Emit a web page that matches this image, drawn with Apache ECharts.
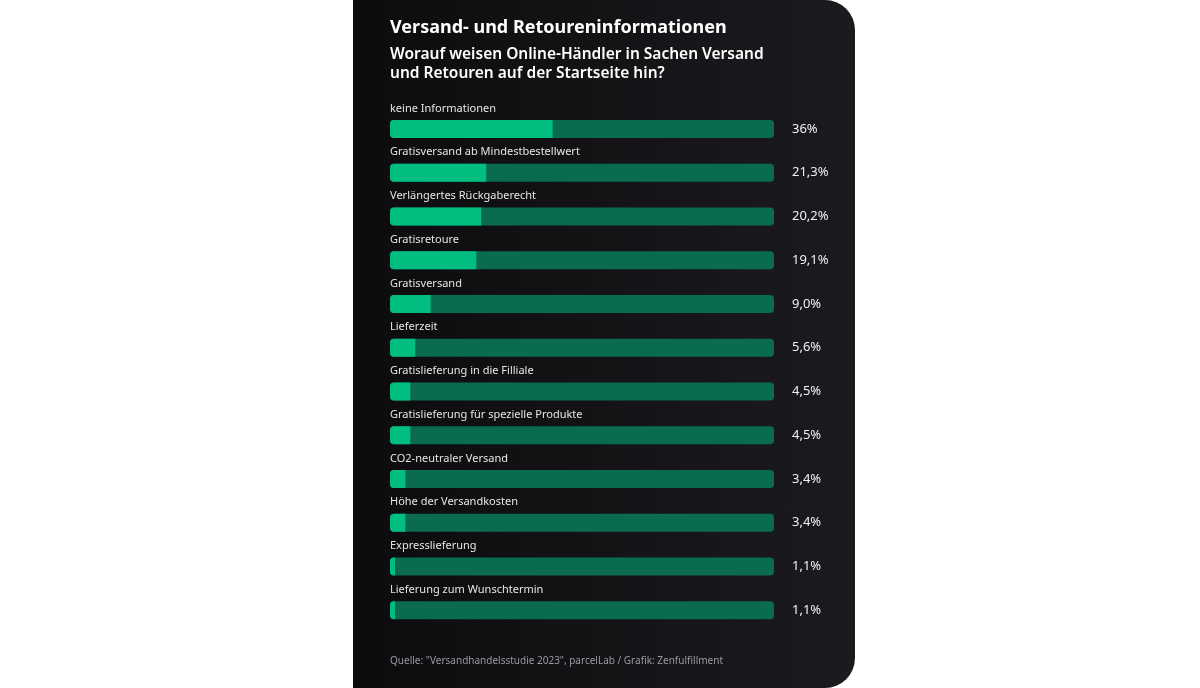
<!DOCTYPE html>
<html><head><meta charset="utf-8">
<script src="https://cdn.jsdelivr.net/npm/echarts@6/dist/echarts.min.js"></script>
<style>
html,body{margin:0;padding:0;background:#fff;}
#card{position:absolute;left:353px;top:0;width:502px;height:688px;background:linear-gradient(90deg,#0c0c0e,#1b1b1f);border-radius:0 30px 30px 0;}
#chart{position:absolute;left:0;top:0;width:1200px;height:688px;}
</style></head>
<body>
<div id="card"></div>
<div id="chart"></div>
<script>
let rows = [
    ['keine Informationen', 36, '36%'],
    ['Gratisversand ab Mindestbestellwert', 21.3, '21,3%'],
    ['Verlängertes Rückgaberecht', 20.2, '20,2%'],
    ['Gratisretoure', 19.1, '19,1%'],
    ['Gratisversand', 9.0, '9,0%'],
    ['Lieferzeit', 5.6, '5,6%'],
    ['Gratislieferung in die Filliale', 4.5, '4,5%'],
    ['Gratislieferung für spezielle Produkte', 4.5, '4,5%'],
    ['CO2-neutraler Versand', 3.4, '3,4%'],
    ['Höhe der Versandkosten', 3.4, '3,4%'],
    ['Expresslieferung', 1.1, '1,1%'],
    ['Lieferung zum Wunschtermin', 1.1, '1,1%'],
]
const MAX = 85
let font = '"Source Sans Pro","Noto Sans",sans-serif'
let chart = echarts.init(document.getElementById('chart'))
chart.setOption({
    animation: false,
    title: [
        {text: 'Versand- und Retoureninformationen', left: 390, top: 19, padding: 0,
            textStyle: {color: '#fff', fontSize: 18, fontWeight: 'bold', fontFamily: font}},
        {text: 'Worauf weisen Online-Händler in Sachen Versand\nund Retouren auf der Startseite hin?', left: 390, top: 45, padding: 0,
            textStyle: {color: '#fff', fontSize: 15.5, fontWeight: 600, lineHeight: 19, fontFamily: font}},
        {text: 'Quelle: "Versandhandelsstudie 2023", parcelLab / Grafik: Zenfulfillment', left: 390, top: 656, padding: 0,
            textStyle: {color: '#9a9a9e', fontSize: 10, fontWeight: 'normal', fontFamily: font}},
    ],
    grid: {left: 390, right: 426, top: 107, bottom: 56},
    xAxis: {type: 'value', min: 0, max: MAX, show: false},
    yAxis: [
        {type: 'category', inverse: true, data: rows.map(r => r[0]), show: false},
        {type: 'category', inverse: true, position: 'right', data: rows.map(r => r[2]),
            axisLine: {show: false}, axisTick: {show: false},
            axisLabel: {color: '#f0f0f0', fontSize: 13, margin: 18, fontFamily: font}},
    ],
    series: [
        {type: 'bar', data: rows.map(() => MAX), barWidth: 18, barGap: '-100%', silent: true,
            itemStyle: {color: '#0a6b4f', borderRadius: 4},
            label: {show: true, position: [0, -17], formatter: p => rows[p.dataIndex][0],
                color: '#e6e6e6', fontSize: 11, fontFamily: font}},
        {type: 'bar', data: rows.map(r => r[1]), barWidth: 18, barGap: '-100%',
            itemStyle: {color: '#00bd80', borderRadius: [4, 0, 0, 4]}},
    ],
})
</script>
</body></html>
